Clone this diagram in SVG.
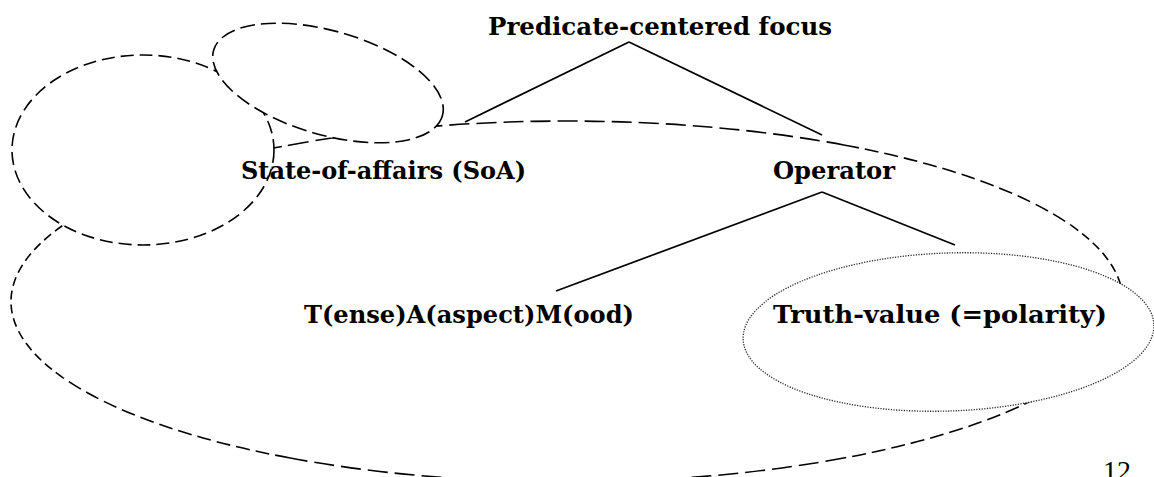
<svg xmlns="http://www.w3.org/2000/svg" width="1154" height="477" viewBox="0 0 1154 477">
  <style>
    .lbl { font-family: "DejaVu Serif", "Liberation Serif", serif; font-weight: bold; font-size: 24px; fill: #000; }
    .dash { fill: none; stroke: #000; stroke-width: 1.6; }
    .dside { stroke-dasharray: 9 5; }
    .dmid { stroke-dasharray: 14 6; }
    .dlong { stroke-dasharray: 20 7; }
    .blob { fill: #fff; stroke: #000; stroke-width: 1.6; }
    .dotted { fill: #fff; stroke: #222; stroke-width: 1.3; stroke-dasharray: 1.2 1.4; }
    .conn { stroke: #000; stroke-width: 1.7; fill: none; }
  </style>

  <g id="regions">
    <g id="big-ellipse" class="dash">
      <path class="dside" d="M1070.9,225.2 A556,180.5 0 0 1 1070.9,377.8"/>
      <path class="dside" d="M63.1,377.8 A556,180.5 0 0 1 63.1,225.2"/>
      <path class="dmid" d="M1070.9,377.8 A556,180.5 0 0 1 845,457.8"/>
      <path class="dmid" d="M289,457.8 A556,180.5 0 0 1 63.1,377.8"/>
      <path class="dmid" d="M63.1,225.2 A556,180.5 0 0 1 289,145.2"/>
      <path class="dmid" d="M845,145.2 A556,180.5 0 0 1 1070.9,225.2"/>
      <path class="dlong" d="M845,457.8 A556,180.5 0 0 1 289,457.8"/>
      <path class="dlong" d="M289,145.2 A556,180.5 0 0 1 845,145.2"/>
    </g>
    <ellipse id="left-ellipse" class="blob" cx="143" cy="150" rx="131" ry="95" stroke-dasharray="13 6"/>
    <ellipse id="small-ellipse" class="blob" cx="328" cy="83" rx="119" ry="52" transform="rotate(16 328 83)" stroke-dasharray="15 6"/>
    <ellipse id="dotted-ellipse" class="dotted" cx="948.5" cy="332" rx="205.5" ry="79" transform="rotate(-2 948.5 332)"/>
  </g>

  <g id="connectors" class="conn">
    <line x1="629" y1="42" x2="465" y2="122"/>
    <line x1="629" y1="42" x2="822" y2="135"/>
    <line x1="822" y1="192" x2="556" y2="291"/>
    <line x1="822" y1="192" x2="955" y2="245"/>
  </g>

  <g id="node-predicate">
    <text class="lbl" x="488" y="35" textLength="344" lengthAdjust="spacingAndGlyphs">Predicate-centered focus</text>
  </g>
  <g id="node-soa">
    <text class="lbl" x="241" y="179" textLength="285" lengthAdjust="spacingAndGlyphs">State-of-affairs (SoA)</text>
  </g>
  <g id="node-operator">
    <text class="lbl" x="773" y="179" textLength="122" lengthAdjust="spacingAndGlyphs">Operator</text>
  </g>
  <g id="node-tam">
    <text class="lbl" x="304" y="323" textLength="330" lengthAdjust="spacingAndGlyphs">T(ense)A(aspect)M(ood)</text>
  </g>
  <g id="node-truth">
    <text class="lbl" x="773" y="323" textLength="334" lengthAdjust="spacingAndGlyphs">Truth-value (=polarity)</text>
  </g>
  <g id="page-number">
    <text x="1103" y="480" font-family="Liberation Serif, serif" font-size="28" fill="#000">12</text>
  </g>
</svg>
